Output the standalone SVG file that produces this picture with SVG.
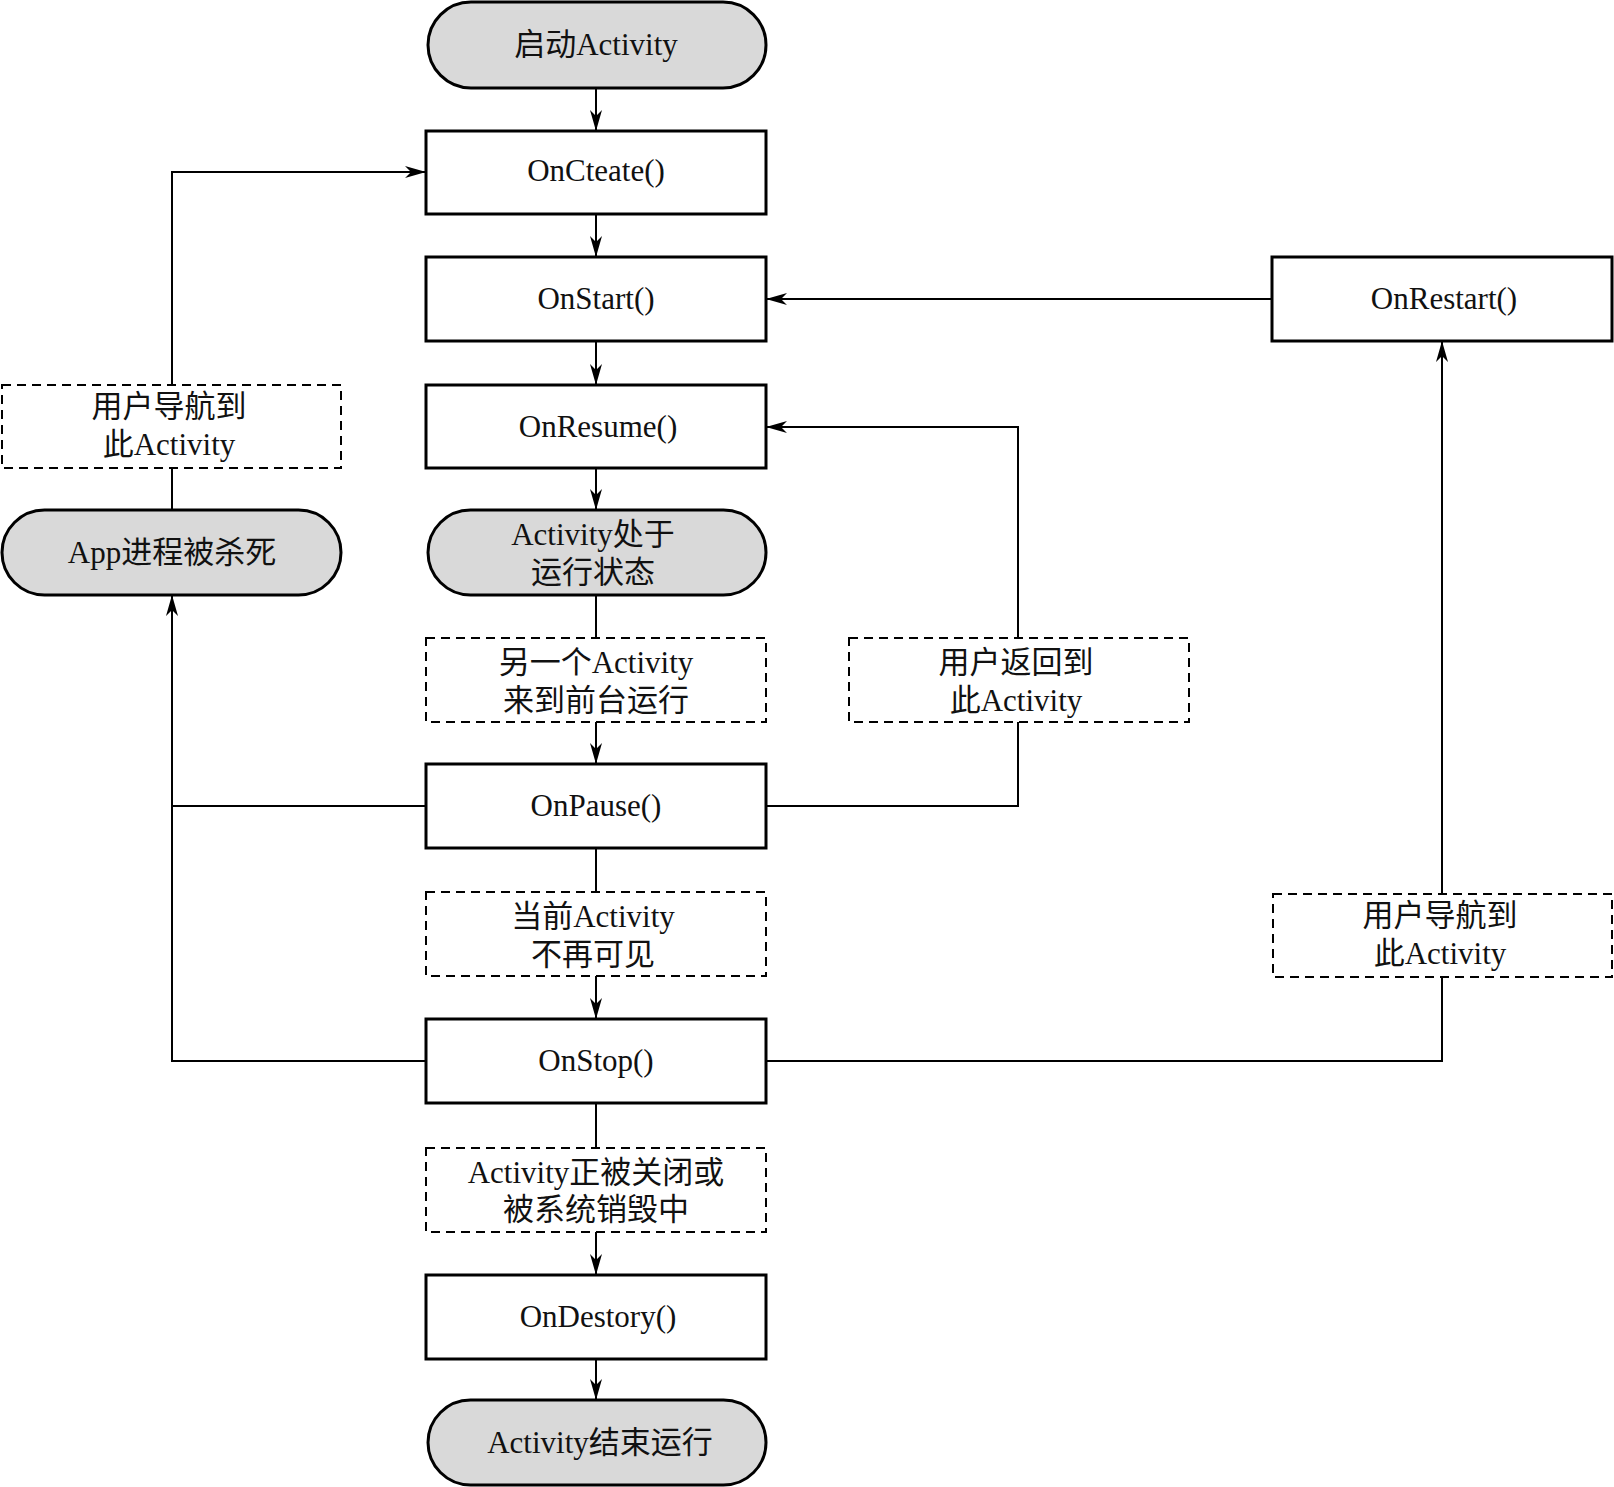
<svg xmlns="http://www.w3.org/2000/svg" width="1614" height="1487" viewBox="0 0 1614 1487">
<style>
.box{fill:#fff;stroke:#000;stroke-width:3}
.pill{fill:#d9d9d9;stroke:#000;stroke-width:3}
.dash{fill:#fff;stroke:#000;stroke-width:2;stroke-dasharray:9,6}
.ln{fill:none;stroke:#000;stroke-width:2}
.arr{marker-end:url(#ah)}
text{font-family:"Liberation Serif","Noto Sans CJK SC",serif;font-size:31px;text-anchor:middle;fill:#111}
</style>
<defs>
<marker id="ah" markerUnits="userSpaceOnUse" markerWidth="24" markerHeight="14" refX="21" refY="7" orient="auto">
<path d="M0,1 L21,7 L0,13 L6,7 z" fill="#000"/>
</marker>
</defs>
<rect width="1614" height="1487" fill="#fff"/>
<g id="connectors">
<line class="ln arr" x1="596" y1="88" x2="596" y2="131"/>
<line class="ln arr" x1="596" y1="214" x2="596" y2="257"/>
<line class="ln arr" x1="596" y1="341" x2="596" y2="385"/>
<line class="ln arr" x1="596" y1="468" x2="596" y2="510"/>
<line class="ln" x1="596" y1="595" x2="596" y2="638"/>
<line class="ln arr" x1="596" y1="722" x2="596" y2="764"/>
<line class="ln" x1="596" y1="848" x2="596" y2="892"/>
<line class="ln arr" x1="596" y1="976" x2="596" y2="1019"/>
<line class="ln" x1="596" y1="1103" x2="596" y2="1148"/>
<line class="ln arr" x1="596" y1="1232" x2="596" y2="1275"/>
<line class="ln arr" x1="596" y1="1359" x2="596" y2="1400"/>
<polyline class="ln" points="172,510 172,468"/>
<polyline class="ln arr" points="172,385 172,172 426,172"/>
<polyline class="ln" points="426,806 172,806"/>
<polyline class="ln arr" points="426,1061 172,1061 172,595"/>
<polyline class="ln" points="766,806 1018,806 1018,722"/>
<polyline class="ln arr" points="1018,638 1018,427 766,427"/>
<polyline class="ln arr" points="1272,299 766,299"/>
<polyline class="ln" points="766,1061 1442,1061 1442,977"/>
<polyline class="ln arr" points="1442,894 1442,341"/>
</g>
<g id="start"><rect class="pill" x="428" y="2" width="338" height="86" rx="43"/><text x="596" y="55">启动Activity</text></g>
<g id="oncreate"><rect class="box" x="426" y="131" width="340" height="83"/><text x="596" y="181">OnCteate()</text></g>
<g id="onstart"><rect class="box" x="426" y="257" width="340" height="84"/><text x="596" y="309">OnStart()</text></g>
<g id="onresume"><rect class="box" x="426" y="385" width="340" height="83"/><text x="598" y="437">OnResume()</text></g>
<g id="running"><rect class="pill" x="428" y="510" width="338" height="85" rx="42.5"/><text x="593" y="545">Activity处于</text><text x="593" y="583">运行状态</text></g>
<g id="lbl-another"><rect class="dash" x="426" y="638" width="340" height="84"/><text x="596" y="673">另一个Activity</text><text x="596" y="711">来到前台运行</text></g>
<g id="onpause"><rect class="box" x="426" y="764" width="340" height="84"/><text x="596" y="816">OnPause()</text></g>
<g id="lbl-invisible"><rect class="dash" x="426" y="892" width="340" height="84"/><text x="593" y="927">当前Activity</text><text x="593" y="965">不再可见</text></g>
<g id="onstop"><rect class="box" x="426" y="1019" width="340" height="84"/><text x="596" y="1071">OnStop()</text></g>
<g id="lbl-closing"><rect class="dash" x="426" y="1148" width="340" height="84"/><text x="596" y="1183">Activity正被关闭或</text><text x="596" y="1220">被系统销毁中</text></g>
<g id="ondestory"><rect class="box" x="426" y="1275" width="340" height="84"/><text x="598" y="1327">OnDestory()</text></g>
<g id="end"><rect class="pill" x="428" y="1400" width="338" height="85" rx="42.5"/><text x="600" y="1453">Activity结束运行</text></g>
<g id="onrestart"><rect class="box" x="1272" y="257" width="340" height="84"/><text x="1444" y="309">OnRestart()</text></g>
<g id="lbl-nav-left"><rect class="dash" x="2" y="385" width="339" height="83"/><text x="169" y="417">用户导航到</text><text x="169" y="455">此Activity</text></g>
<g id="killed"><rect class="pill" x="2" y="510" width="339" height="85" rx="42.5"/><text x="172" y="563">App进程被杀死</text></g>
<g id="lbl-return"><rect class="dash" x="849" y="638" width="340" height="84"/><text x="1016" y="673">用户返回到</text><text x="1016" y="711">此Activity</text></g>
<g id="lbl-nav-right"><rect class="dash" x="1273" y="894" width="339" height="83"/><text x="1440" y="926">用户导航到</text><text x="1440" y="964">此Activity</text></g>
</svg>
